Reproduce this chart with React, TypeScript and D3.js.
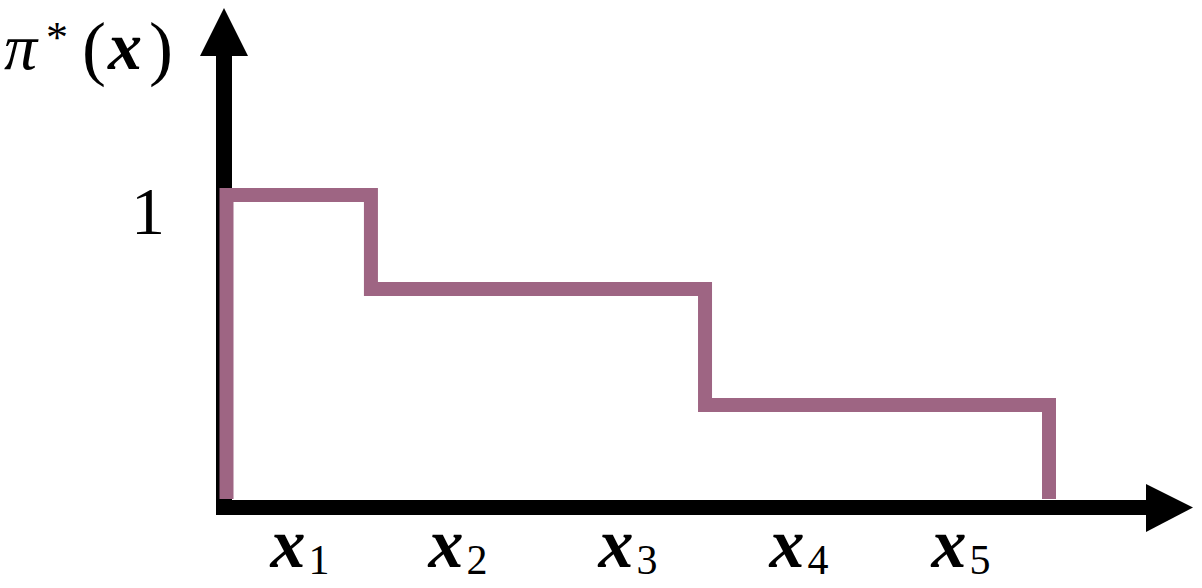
import React from "react";
import * as d3 from "d3";

const width = 1202;
const height = 588;

// step function pi*(x): boundaries along x and level of each step
const stepEdges = [0, 0.878, 2.909, 5];
const stepLevels = [1, 0.691, 0.309];
// tick labels under the x axis and where they sit
const xLabels = ["1", "2", "3", "4", "5"];
const xLabelPos = [0.447, 1.407, 2.44, 3.48, 4.465];
const yTicks = [1];
const yTickLabels = ["1"];

const serif = "Liberation Serif";
const purple = "#9e6583";

const x = d3.scaleLinear().domain([0, 5]).range([226.5, 1049]);
const y = d3.scaleLinear().domain([0, 1]).range([499, 195]);

export default function App() {
  // points for a step-after curve, starting and ending at zero
  const pts: [number, number][] = [[stepEdges[0], 0]];
  stepLevels.forEach((lv, i) => pts.push([stepEdges[i], lv]));
  pts.push([stepEdges[stepEdges.length - 1], 0]);

  const line = d3
    .line<[number, number]>()
    .x((d) => x(d[0]))
    .y((d) => y(d[1]))
    .curve(d3.curveStepAfter);

  const ox = 224;
  const oy = 507.5;

  return (
    <svg
      width={width}
      height={height}
      style={{ position: "absolute", left: 0, top: 0, background: "#fff" }}
    >
      {/* axes */}
      <line x1={ox} x2={ox} y1={515} y2={54} stroke="#000" strokeWidth={16} />
      <polygon points={`200,56 248,56 ${ox},8`} fill="#000" />
      <line x1={216} x2={1148} y1={oy} y2={oy} stroke="#000" strokeWidth={15} />
      <polygon points={`1146,484 1146,532 1193,${oy}`} fill="#000" />

      {/* step line */}
      <path
        d={line(pts) || ""}
        fill="none"
        stroke={purple}
        strokeWidth={14}
        strokeLinejoin="miter"
        strokeLinecap="butt"
      />

      {/* y tick labels */}
      {yTicks.map((t, i) => (
        <text
          key={i}
          x={165}
          y={y(t) + 39}
          textAnchor="end"
          fontFamily={serif}
          fontSize={68}
        >
          {yTickLabels[i]}
        </text>
      ))}

      {/* y axis title: pi*(x) */}
      <g fontFamily={serif} fontSize={66}>
        <text x={4} y={69} fontStyle="italic">π</text>
        <text x={46} y={52} fontSize={44}>*</text>
        <text x={82} y={72} fontSize={72}>(</text>
        <text x={108} y={69} fontStyle="italic" fontWeight="bold" fontSize={68}>x</text>
        <text x={149} y={72} fontSize={72}>)</text>
      </g>

      {/* x labels */}
      {xLabels.map((lab, i) => (
        <text
          key={lab}
          x={x(xLabelPos[i])}
          y={567}
          textAnchor="middle"
          fontFamily={serif}
          fontSize={70}
        >
          <tspan fontStyle="italic" fontWeight="bold">x</tspan>
          <tspan fontSize={42} dx={3} dy={7}>{lab}</tspan>
        </text>
      ))}
    </svg>
  );
}
